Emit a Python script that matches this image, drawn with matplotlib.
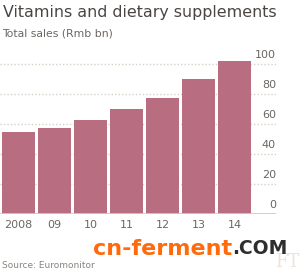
import matplotlib
matplotlib.use("Agg")
import matplotlib.pyplot as plt
import matplotlib.transforms as mtransforms

# ================================
# DATA
# ================================
years = ["2008", "09", "10", "11", "12", "13", "14"]
sales = [54.7, 57.5, 62.7, 70.2, 77.1, 89.8, 101.8]
yticks = [0, 20, 40, 60, 80, 100]

bar_color = "#b96d80"
text_grey = "#6b6662"
grid_color = "#d8d0c6"

# ================================
# FIGURE
# ================================
W, H = 301, 272
fig = plt.figure(figsize=(W / 100, H / 100), dpi=100)
fig.patch.set_facecolor("white")

# axes: x 0..276 px, value 0 at y=214 px, 105 at 56.5 px
ax = fig.add_axes([0, 58 / H, 276 / W, 157.5 / H])
ax.set_facecolor("white")
x = list(range(len(years)))
ax.bar(x, sales, width=0.92, color=bar_color, zorder=3)
ax.set_xlim(-18.5 / 36, (276 - 18.5) / 36)
ax.set_ylim(0, 105)

for v in yticks[1:]:
    ax.axhline(v, color=grid_color, lw=1, ls=(0, (1, 1.5)), zorder=1)
ax.axhline(0, color="#cfcac4", lw=2, zorder=4)

trans = mtransforms.blended_transform_factory(ax.transAxes, ax.transData)
offset = mtransforms.ScaledTranslation(0, 3 / 72, fig.dpi_scale_trans)
for v in yticks:
    ax.text(1.0, v, str(v), transform=trans + offset, ha="right", va="bottom",
            fontsize=8, color=text_grey)

ax.set_xticks(x)
ax.set_xticklabels(years, fontsize=8, color=text_grey)
ax.tick_params(axis="x", length=0, pad=4)
ax.set_yticks([])
for s in ax.spines.values():
    s.set_visible(False)

# ================================
# TEXTS
# ================================
fig.text(3 / W, 1 - 12 / H, "Vitamins and dietary supplements", fontsize=11.4,
         color="#4a4542", va="center", ha="left")
fig.text(2 / W, 1 - 33 / H, "Total sales (Rmb bn)", fontsize=7.8,
         color=text_grey, va="center", ha="left")
fig.text(2 / W, 1 - 266 / H, "Source: Euromonitor", fontsize=6.5,
         color="#8a847f", va="center", ha="left")

# watermark
fig.text(299 / W, 1 - 271 / H, "FT", fontsize=13, family="DejaVu Serif",
         color="#ebe3dc", ha="right", va="bottom")
fig.text(93 / W, 1 - 249 / H, "cn-ferment", fontsize=16, weight="bold",
         color="#ff6a0d", va="center", ha="left")
fig.text(287 / W, 1 - 249 / H, ".COM", fontsize=13.5, weight="bold",
         color="#2e2e2e", va="center", ha="right")

fig.savefig("out.png", dpi=100, facecolor="white")
